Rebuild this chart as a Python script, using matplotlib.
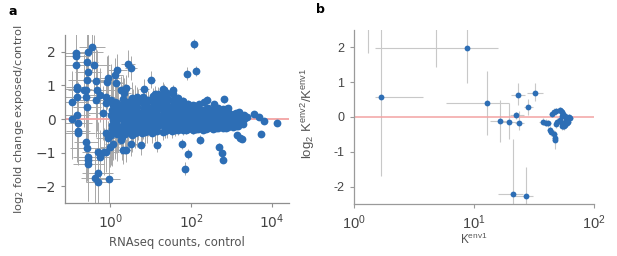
import numpy as np
import matplotlib
matplotlib.use("Agg")
import matplotlib.pyplot as plt
from matplotlib.ticker import NullLocator

BLUE = "#2d6eb5"
ERR = "#a8a8a8"
RED = "#f3a3a3"

# ---- panel a: outliers (counts, log2 FC, y error, x error factor) ----
out_counts = [0.112, 0.110, 0.138, 0.138, 0.138, 0.148, 0.148, 0.148, 0.148, 0.155,
              0.155, 0.155, 0.219, 0.245, 0.263, 0.275, 0.282, 0.263, 0.251, 0.263,
              0.245, 0.263, 0.275, 0.275, 0.282, 0.355, 0.389, 0.447, 0.468, 0.447,
              0.537, 0.407, 0.479, 0.501, 0.501, 0.537, 0.676, 0.759, 0.933, 0.851,
              0.832, 0.759, 0.759, 0.661, 0.794, 0.871, 0.955, 1.17, 2.75, 3.24,
              1.48, 1.29, 1.41, 1.78, 2.40, 2.14, 2.0, 2.40, 3.31, 1.86,
              10.0, 6.76, 4.47, 5.62, 14.5, 20.4, 77.6, 115, 132, 70.8,
              81.3, 58.9, 166, 245, 661, 479, 575, 617, 1380, 1585,
              1820, 2455, 3548, 4786, 5370, 6310, 13490]
out_lfc = [0.52, 0.0, 1.97, 1.87, 1.62, 0.95, 0.89, 0.67, 0.12, -0.11,
           -0.36, -0.43, 0.85, 0.85, 1.69, 1.99, 1.39, 1.17, 0.65, 0.37,
           -0.68, -0.85, -1.13, -1.21, -1.35, 2.14, 1.60, 1.12, 0.85, 0.57,
           0.72, -1.76, -1.60, -1.88, -0.98, -1.13, -0.98, -0.98, -1.80, 1.22,
           1.09, 0.67, 0.47, 0.17, -0.43, -0.55, -0.83, -0.73, 1.65, 1.52,
           1.45, 1.32, 1.07, 0.87, 0.92, 0.77, -0.93, -0.93, -0.75, -0.63,
           1.17, 0.89, 0.65, -0.76, -0.78, 0.89, 1.35, 2.24, 1.44, -1.48,
           -1.03, -0.75, -0.61, 0.57, 0.59, -0.83, -1.01, -1.21, -0.48, -0.55,
           -0.58, 0.05, 0.14, 0.05, -0.45, -0.05, -0.11]
out_yerr = [0.9, 1.2, 0.8, 0.9, 1.0, 1.1, 0.9, 1.3, 1.4, 1.2,
            1.0, 0.9, 1.1, 0.9, 1.0, 0.8, 1.2, 1.3, 1.4, 1.1,
            1.2, 1.0, 1.3, 0.9, 1.1, 0.7, 0.9, 1.0, 1.2, 1.1,
            0.8, 0.9, 0.8, 0.7, 0.9, 0.8, 0.7, 0.6, 0.7, 0.7,
            0.8, 0.6, 0.7, 0.8, 0.6, 0.5, 0.6, 0.5, 0.4, 0.35,
            0.5, 0.5, 0.45, 0.4, 0.4, 0.45, 0.4, 0.35, 0.35, 0.4,
            0.25, 0.3, 0.3, 0.3, 0.2, 0.2, 0.2, 0.15, 0.15, 0.2,
            0.15, 0.15, 0.12, 0.12, 0.1, 0.12, 0.12, 0.1, 0.08, 0.08,
            0.08, 0.06, 0.06, 0.05, 0.06, 0.05, 0.05]
out_xfac = [2.5, 2.0, 1.8, 2.2, 2.6, 1.9, 2.4, 2.8, 2.1, 2.3,
            2.0, 2.6, 2.2, 2.7, 1.9, 2.4, 2.1, 2.9, 2.5, 2.2,
            2.0, 2.6, 2.3, 1.8, 2.4, 2.1, 2.5, 2.0, 2.3, 2.7,
            1.9, 2.2, 2.4, 2.0, 2.6, 2.1, 1.9, 2.2, 1.8, 2.0,
            2.3, 1.9, 2.1, 2.4, 1.8, 2.0, 1.7, 1.6, 1.5, 1.4,
            1.7, 1.6, 1.5, 1.5, 1.4, 1.5, 1.6, 1.4, 1.4, 1.5,
            1.25, 1.3, 1.35, 1.3, 1.2, 1.2, 1.1, 1.1, 1.1, 1.1,
            1.1, 1.1, 1.1, 1.1, 1.1, 1.1, 1.1, 1.1, 1.1, 1.1,
            1.1, 1.1, 1.1, 1.1, 1.1, 1.1, 1.1]

# ---- panel a: the dense bulk of genes ----
blob_counts = [1.05, 1.12, 1.08, 1.15, 1.02, 1.1, 1.18, 1.06,
               1.29, 1.27, 1.31, 1.28, 1.3, 1.26, 1.32,
               1.45, 1.52, 1.4, 1.58, 1.48, 1.55, 1.42,
               1.95, 2.05, 1.9, 2.1, 2.0, 1.93, 2.08, 2.02,
               2.29, 2.25, 2.33, 2.27, 2.31, 2.24, 2.3,
               2.55, 2.65, 2.5, 2.7, 2.6, 2.58, 2.68,
               3.4, 3.6, 3.5, 3.3, 3.55, 3.45, 3.62, 3.38,
               4.07, 4.0, 4.12, 4.05, 3.98, 4.1, 4.03,
               4.6, 4.8, 4.5, 4.9, 4.7, 4.55, 4.85,
               6.1, 6.5, 6.2, 6.4, 6.0, 6.6, 6.3, 6.5,
               7.24, 7.1, 7.35, 7.2, 7.3, 7.05, 7.4,
               8.1, 8.6, 8.0, 8.4, 8.7, 8.2, 8.5,
               10.8, 11.5, 10.5, 11.2, 11.7, 10.9, 11.4, 11.0,
               12.9, 12.6, 13.2, 12.8, 13.0, 12.7, 13.1, 12.9,
               14.5, 15.5, 14.8, 15.2, 14.2, 15.8, 14.9, 15.3,
               19.5, 20.8, 19.8, 20.3, 21.0, 19.2, 20.5, 20.0, 21.2,
               22.9, 22.5, 23.3, 22.7, 23.1, 22.4, 23.0, 22.8,
               25.5, 26.8, 25.0, 26.3, 27.0, 25.8, 26.5, 25.3,
               34, 36, 35, 33.5, 36.5, 34.5, 35.5, 34.8, 35.2,
               40.7, 40.0, 41.3, 40.5, 41.0, 39.8, 40.9,
               46, 48, 45.5, 47.5, 46.5, 48.5, 47,
               62, 65, 61, 64, 63, 66, 62.5,
               72.4, 71, 73.5, 72, 73, 71.5,
               82, 85, 80, 86, 83, 81,
               110, 115, 108, 114, 112, 109,
               129, 127, 131, 128, 130, 126,
               145, 152, 144, 150, 147, 153,
               195, 205, 198, 202, 192, 207,
               229, 225, 233, 227, 231,
               258, 268, 255, 265, 261,
               350, 362, 348, 358, 352, 365,
               407, 400, 412, 405, 410,
               460, 475, 455, 470, 465,
               620, 640, 615, 635, 628,
               724, 715, 730, 720, 728,
               820, 845, 815, 840, 830,
               1100, 1140, 1090, 1130,
               1288, 1270, 1300, 1280,
               1450, 1500, 1460, 1490,
               1950, 2030, 1980]
blob_lfc = [-0.48, -0.31, -0.17, -0.03, 0.12, 0.27, 0.41, 0.58,
            -0.4, -0.24, -0.1, 0.05, 0.2, 0.35, 0.5,
            -0.44, -0.27, -0.12, 0.02, 0.17, 0.33, 0.47,
            -0.52, -0.35, -0.2, -0.04, 0.1, 0.26, 0.43, 0.6,
            -0.44, -0.28, -0.12, 0.03, 0.18, 0.34, 0.5,
            -0.4, -0.26, -0.1, 0.05, 0.19, 0.35, 0.52,
            -0.47, -0.31, -0.14, 0.0, 0.14, 0.31, 0.46, 0.63,
            -0.42, -0.26, -0.1, 0.05, 0.2, 0.38, 0.55,
            -0.38, -0.24, -0.09, 0.06, 0.21, 0.36, 0.53,
            -0.43, -0.27, -0.12, 0.03, 0.18, 0.32, 0.49, 0.66,
            -0.39, -0.23, -0.08, 0.07, 0.22, 0.38, 0.55,
            -0.37, -0.21, -0.07, 0.08, 0.23, 0.39, 0.56,
            -0.41, -0.25, -0.11, 0.05, 0.19, 0.34, 0.5, 0.69,
            -0.37, -0.21, -0.06, 0.09, 0.24, 0.4, 0.58, 0.74,
            -0.35, -0.19, -0.05, 0.11, 0.26, 0.41, 0.58, 0.76,
            -0.38, -0.22, -0.08, 0.07, 0.21, 0.36, 0.52, 0.7, 0.85,
            -0.36, -0.2, -0.05, 0.1, 0.25, 0.41, 0.58, 0.76,
            -0.33, -0.18, -0.03, 0.12, 0.27, 0.43, 0.6, 0.79,
            -0.36, -0.2, -0.06, 0.08, 0.23, 0.38, 0.55, 0.74, 0.87,
            -0.34, -0.18, -0.04, 0.11, 0.26, 0.42, 0.6,
            -0.32, -0.17, -0.02, 0.13, 0.28, 0.45, 0.62,
            -0.34, -0.19, -0.05, 0.1, 0.25, 0.4, 0.55,
            -0.32, -0.17, -0.02, 0.12, 0.27, 0.42,
            -0.3, -0.15, 0.0, 0.14, 0.3, 0.45,
            -0.33, -0.18, -0.04, 0.1, 0.25, 0.42,
            -0.31, -0.16, -0.01, 0.13, 0.28, 0.4,
            -0.3, -0.15, 0.0, 0.15, 0.3, 0.45,
            -0.32, -0.17, -0.03, 0.12, 0.27, 0.5,
            -0.3, -0.15, 0.0, 0.14, 0.29,
            -0.28, -0.13, 0.02, 0.16, 0.32,
            -0.3, -0.15, -0.01, 0.13, 0.28, 0.45,
            -0.28, -0.13, 0.01, 0.15, 0.3,
            -0.27, -0.12, 0.03, 0.17, 0.33,
            -0.28, -0.14, 0.0, 0.14, 0.3,
            -0.26, -0.12, 0.02, 0.16, 0.3,
            -0.25, -0.1, 0.04, 0.18, 0.32,
            -0.24, -0.1, 0.03, 0.16,
            -0.22, -0.08, 0.06, 0.19,
            -0.2, -0.06, 0.08, 0.22,
            -0.15, 0.0, 0.12]
blob_yerr = [0.9, 1.1, 0.8, 1.0, 0.7, 0.95, 0.85, 1.05,
             0.8, 0.9, 0.7, 0.85, 0.75, 0.9, 0.8,
             0.8, 0.7, 0.9, 0.6, 0.85, 0.75, 0.65,
             0.7, 0.6, 0.8, 0.5, 0.65, 0.75, 0.55, 0.7,
             0.6, 0.7, 0.55, 0.65, 0.6, 0.7, 0.55,
             0.6, 0.5, 0.7, 0.45, 0.55, 0.65, 0.5,
             0.5, 0.45, 0.6, 0.4, 0.55, 0.5, 0.42, 0.48,
             0.45, 0.5, 0.4, 0.45, 0.42, 0.4, 0.45,
             0.45, 0.38, 0.5, 0.35, 0.42, 0.4, 0.36,
             0.4, 0.32, 0.45, 0.3, 0.38, 0.35, 0.33, 0.3,
             0.35, 0.32, 0.38, 0.3, 0.34, 0.32, 0.3,
             0.35, 0.3, 0.38, 0.28, 0.33, 0.3, 0.28,
             0.3, 0.26, 0.33, 0.25, 0.28, 0.3, 0.26, 0.24,
             0.27, 0.3, 0.25, 0.28, 0.26, 0.25, 0.27, 0.24,
             0.27, 0.23, 0.3, 0.22, 0.25, 0.24, 0.22, 0.2,
             0.24, 0.2, 0.26, 0.21, 0.22, 0.24, 0.2, 0.19, 0.18,
             0.21, 0.23, 0.2, 0.22, 0.2, 0.21, 0.2, 0.19,
             0.22, 0.18, 0.24, 0.19, 0.2, 0.21, 0.18, 0.17,
             0.2, 0.16, 0.19, 0.17, 0.18, 0.2, 0.16, 0.15, 0.15,
             0.17, 0.18, 0.16, 0.17, 0.16, 0.17, 0.16,
             0.17, 0.15, 0.18, 0.14, 0.16, 0.15, 0.14,
             0.15, 0.13, 0.16, 0.12, 0.14, 0.13, 0.12,
             0.14, 0.13, 0.14, 0.13, 0.13, 0.12,
             0.13, 0.12, 0.14, 0.11, 0.12, 0.11,
             0.12, 0.1, 0.12, 0.1, 0.11, 0.1,
             0.1, 0.11, 0.1, 0.1, 0.1, 0.1,
             0.1, 0.09, 0.1, 0.09, 0.09, 0.09,
             0.09, 0.08, 0.09, 0.08, 0.08, 0.08,
             0.08, 0.08, 0.08, 0.08, 0.08,
             0.08, 0.07, 0.08, 0.07, 0.07,
             0.07, 0.06, 0.07, 0.06, 0.06, 0.06,
             0.06, 0.06, 0.06, 0.06, 0.06,
             0.06, 0.06, 0.06, 0.05, 0.05,
             0.05, 0.05, 0.05, 0.05, 0.05,
             0.05, 0.05, 0.05, 0.05, 0.05,
             0.05, 0.05, 0.05, 0.05, 0.05,
             0.05, 0.04, 0.05, 0.04,
             0.04, 0.04, 0.04, 0.04,
             0.04, 0.04, 0.04, 0.04,
             0.04, 0.04, 0.04]

# ---- panel b: K values in two environments ----
b_k = [1.69, 8.7, 12.8, 16.6, 19.6, 22.6, 23.1, 23.8, 28.3, 32.5, 21.2, 27.3, 1.32, 4.83]
b_lfc = [0.56, 1.97, 0.41, -0.12, -0.13, 0.05, 0.62, -0.16, 0.28, 0.70, -2.22, -2.27, 3.4, 3.2]
b_k_lo = [1.5, 1.52, 5.9, 13.5, 16.5, 20.0, 20.5, 22.0, 26.0, 27.5, 15.9, 21.5, 1.32, 4.83]
b_k_hi = [3.79, 15.9, 19.7, 19.5, 23.0, 26.0, 26.5, 26.0, 31.0, 37.5, 25.7, 30.8, 1.32, 4.83]
b_lfc_lo = [-1.69, 0.98, -0.52, -0.72, -0.63, -0.05, 0.35, -0.37, 0.05, 0.45, -3.2, -3.0, 1.83, 1.44]
b_lfc_hi = [3.0, 3.0, 1.32, 0.49, 0.40, 0.15, 0.98, 0.16, 0.52, 0.98, -0.62, -1.44, 4.5, 4.0]

cl_k = [37.7, 39.7, 41.5, 42.8, 43.4, 46.3, 47.0, 47.0, 44.3, 46.3, 48.6,
        51.9, 53.6, 55.2, 56.9, 58.7, 62.0, 63.5, 51.9, 53.6, 55.2, 57.0,
        59.5, 60.7, 58.2, 49.4, 54.5, 48.6, 54.4, 57.2, 61.0, 52.7, 55.8]
cl_lfc = [-0.14, -0.16, -0.18, -0.38, -0.44, -0.50, -0.60, -0.66, 0.10, 0.15, 0.17,
          0.20, 0.15, 0.10, 0.03, -0.02, 0.0, -0.02, -0.09, -0.18, -0.25, -0.23,
          -0.18, -0.14, -0.09, -0.14, 0.03, -0.21, -0.27, -0.21, -0.07, 0.18, -0.27]
cl_kerr = [3.0, 2.5, 2.5, 2.0, 2.0, 2.5, 2.0, 2.0, 2.5, 2.0, 2.5,
           3.0, 2.5, 3.0, 2.5, 3.0, 3.0, 3.5, 2.5, 2.5, 3.0, 2.5,
           3.0, 3.0, 2.5, 2.5, 2.5, 2.5, 2.5, 3.0, 3.0, 2.5, 2.5]
cl_lfcerr = [0.1, 0.1, 0.1, 0.12, 0.12, 0.12, 0.2, 0.25, 0.1, 0.1, 0.1,
             0.1, 0.1, 0.08, 0.08, 0.08, 0.08, 0.08, 0.08, 0.08, 0.1, 0.1,
             0.08, 0.08, 0.08, 0.1, 0.08, 0.1, 0.1, 0.1, 0.08, 0.08, 0.1]


def style_axes(ax, spine_col):
    for s in ("top", "right"):
        ax.spines[s].set_visible(False)
    for s in ("left", "bottom"):
        ax.spines[s].set_color(spine_col)
        ax.spines[s].set_linewidth(0.9)
    ax.tick_params(which="both", direction="out", length=3, width=0.8, color=spine_col)
    ax.xaxis.set_minor_locator(NullLocator())


fig = plt.figure(figsize=(6.17, 2.56), dpi=100)
axa = fig.add_axes([0.105, 0.207, 0.363, 0.656])
axb = fig.add_axes([0.573, 0.203, 0.390, 0.68])

# ---- panel a ----
oc = np.array(out_counts)
of = np.array(out_xfac)
axa.errorbar(oc, out_lfc, yerr=out_yerr, xerr=[oc - oc / of, oc * of - oc],
             fmt="none", ecolor=ERR, elinewidth=0.7, zorder=1)
axa.errorbar(blob_counts, blob_lfc, yerr=blob_yerr, fmt="none", ecolor=ERR,
             elinewidth=0.7, zorder=1)
axa.axhline(0, color=RED, lw=1.3, zorder=2)
axa.plot(blob_counts, blob_lfc, "o", ms=5.6, color=BLUE, mew=0, zorder=3)
axa.plot(out_counts, out_lfc, "o", ms=5.6, color=BLUE, mew=0, zorder=3)
axa.set_xscale("log")
axa.set_xlim(0.074, 26000)
axa.set_ylim(-2.5, 2.5)
axa.set_xticks([1, 1e2, 1e4])
axa.set_yticks([-2, -1, 0, 1, 2])
style_axes(axa, "#8f8f8f")
axa.tick_params(labelsize=10, labelcolor="#444444")
axa.set_xlabel("RNAseq counts, control", fontsize=8.4, color="#555555")
axa.set_ylabel(r"log$_2$ fold change exposed/control", fontsize=8.2, color="#555555")
axa.yaxis.set_label_coords(-0.175, 0.5)
axa.xaxis.set_label_coords(0.5, -0.195)

# ---- panel b ----
bk = np.array(b_k)
bl = np.array(b_lfc)
axb.errorbar(bk, bl, xerr=[bk - np.array(b_k_lo), np.array(b_k_hi) - bk],
             yerr=[bl - np.array(b_lfc_lo), np.array(b_lfc_hi) - bl],
             fmt="none", ecolor="#c8c8c8", elinewidth=0.8, zorder=1)
axb.errorbar(cl_k, cl_lfc, xerr=cl_kerr, yerr=cl_lfcerr, fmt="none",
             ecolor="#c8c8c8", elinewidth=0.8, zorder=1)
axb.axhline(0, color=RED, lw=1.1, zorder=2)
axb.plot(b_k, b_lfc, "o", ms=4.2, color=BLUE, mew=0, zorder=3)
axb.plot(cl_k, cl_lfc, "o", ms=4.2, color=BLUE, mew=0, zorder=3)
axb.set_xscale("log")
axb.set_xlim(1, 100)
axb.set_ylim(-2.5, 2.5)
style_axes(axb, "#9a9a9a")
axb.set_xticks([1, 10, 100])
axb.set_xticklabels([r"$\mathregular{10^0}$", r"$\mathregular{10^1}$", r"$\mathregular{10^2}$"],
                    family="Liberation Sans", fontsize=10.5, color="#444444")
axb.set_yticks([-2, -1, 0, 1, 2])
axb.set_yticklabels(["-2", "-1", "0", "1", "2"], family="Liberation Sans",
                    fontsize=9, color="#444444")
axb.set_xlabel(r"$\mathregular{K^{env1}}$", family="Liberation Sans", fontsize=8.5,
               color="#555555")
axb.set_ylabel(r"$\mathregular{log_2\ K^{env2}/K^{env1}}$", family="Liberation Sans",
               fontsize=9.5, color="#555555")
axb.yaxis.set_label_coords(-0.15, 0.52)
axb.xaxis.set_label_coords(0.5, -0.16)

fig.text(0.013, 0.955, "a", fontsize=9, fontweight="bold", va="center", ha="left")
fig.text(0.512, 0.962, "b", fontsize=9, fontweight="bold", va="center", ha="left")

fig.savefig("out.png", dpi=100)
